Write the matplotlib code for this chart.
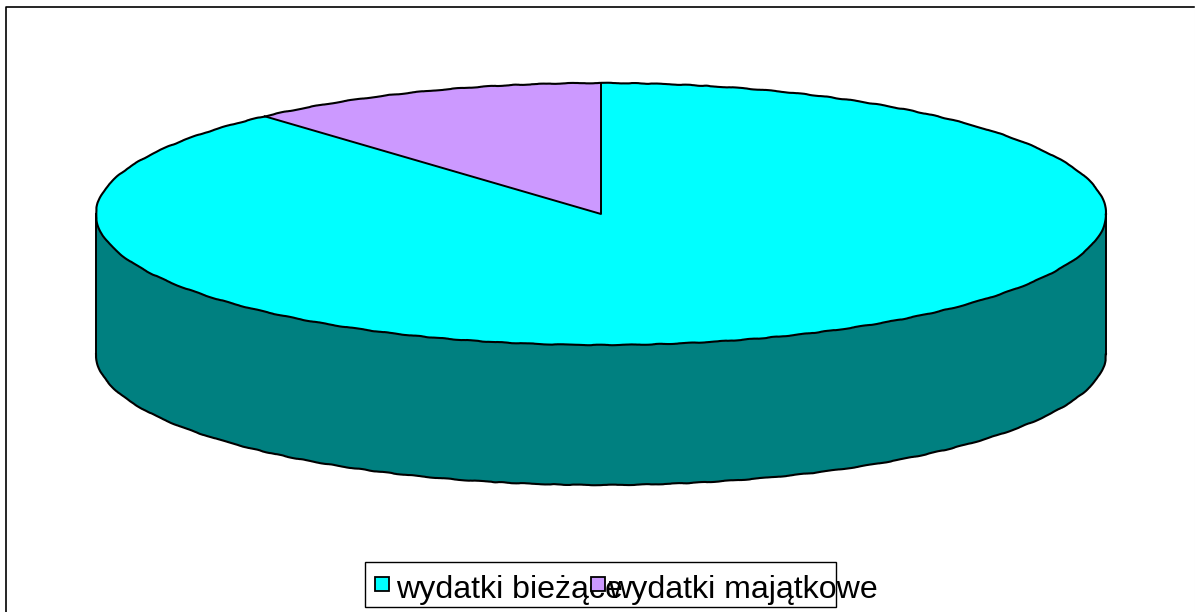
import numpy as np
import matplotlib
matplotlib.use("Agg")
import matplotlib.pyplot as plt
from matplotlib.lines import Line2D
from matplotlib.patches import Rectangle

labels = ["wydatki bieżące", "wydatki majątkowe"]
values = [88.4, 11.6]
top_colors = ["#00FFFF", "#CC99FF"]
side_color = "#008080"

W, H = 1195, 612
# pie ellipse in pixels
cx, cy, rx, ry = 601, 214, 505, 131
depth = 140


def fx(px):
    return px / W


def fy(py):
    return 1 - py / H


plt.rcParams["font.family"] = ["Liberation Sans", "DejaVu Sans"]
fig = plt.figure(figsize=(W / 100, H / 100), dpi=100, facecolor="white")

# chart frame, only top and left are really visible
fig.add_artist(Line2D([fx(6.5), fx(6.5), fx(1194)], [fy(612), fy(6.5), fy(6.5)], transform=fig.transFigure,
                      color="black", lw=1.2, zorder=-1))
fig.add_artist(Line2D([fx(1194.5), fx(1194.5)], [fy(6), fy(612)], transform=fig.transFigure,
                      color="#eeeeee", lw=0.8, zorder=-1))

# axes spans the ellipse so the unit pie gets squashed
ax = fig.add_axes([fx(cx - rx), fy(cy + ry), 2 * rx / W, 2 * ry / H], zorder=1)
wedges, _ = ax.pie(values, colors=top_colors, startangle=90, counterclock=False, radius=1,
                   wedgeprops=dict(edgecolor="none", zorder=3))
ax.set_aspect("auto")
ax.set_xlim(-1, 1)
ax.set_ylim(-1, 1)
ax.axis("off")
for w in wedges:
    w.set_clip_on(False)

# outlines: the rim is a bit jagged in the original, the slice edges are straight
t = np.linspace(0, 2 * np.pi, 400)
rim, = ax.plot(np.cos(t), np.sin(t), color="black", lw=1.5, clip_on=False, zorder=4)
rim.set_sketch_params(0.3, 50, 6)
split = np.pi / 2 + 2 * np.pi * values[1] / sum(values)
ax.plot([0, 0, np.cos(split)], [1, 0, np.sin(split)], color="black", lw=1.4, clip_on=False, zorder=4)

# side wall
d = depth / ry
t = np.linspace(np.pi, 2 * np.pi, 200)
x = np.cos(t)
y = np.sin(t)
wall_x = np.concatenate([x, x[::-1]])
wall_y = np.concatenate([y - d, y[::-1]])
ax.fill(wall_x, wall_y, fc=side_color, ec="none", clip_on=False, zorder=1)
low, = ax.plot(x, y - d, color="black", lw=1.5, clip_on=False, zorder=2)
low.set_sketch_params(0.3, 50, 6)
ax.plot([-1, -1], [0, -d], color="black", lw=1.4, clip_on=False, zorder=2)
ax.plot([1, 1], [0, -d], color="black", lw=1.4, clip_on=False, zorder=2)

# legend, entries overlap in the original
fig.add_artist(Rectangle((fx(364.5), fy(607)), 471 / W, 45 / H, transform=fig.transFigure,
                         fc="white", ec="black", lw=1.0, zorder=2))
marker_x = [374.5, 590.5]
text_x = [396, 608]
for i in range(2):
    fig.text(fx(text_x[i]), fy(598), labels[i], fontsize=23.1, color="black", ha="left",
             va="baseline", zorder=3)
    fig.add_artist(Rectangle((fx(marker_x[i]), fy(591)), 14 / W, 14 / H, transform=fig.transFigure,
                             fc=top_colors[i], ec="black", lw=1.3, zorder=4))

fig.savefig("out.png", dpi=100)
